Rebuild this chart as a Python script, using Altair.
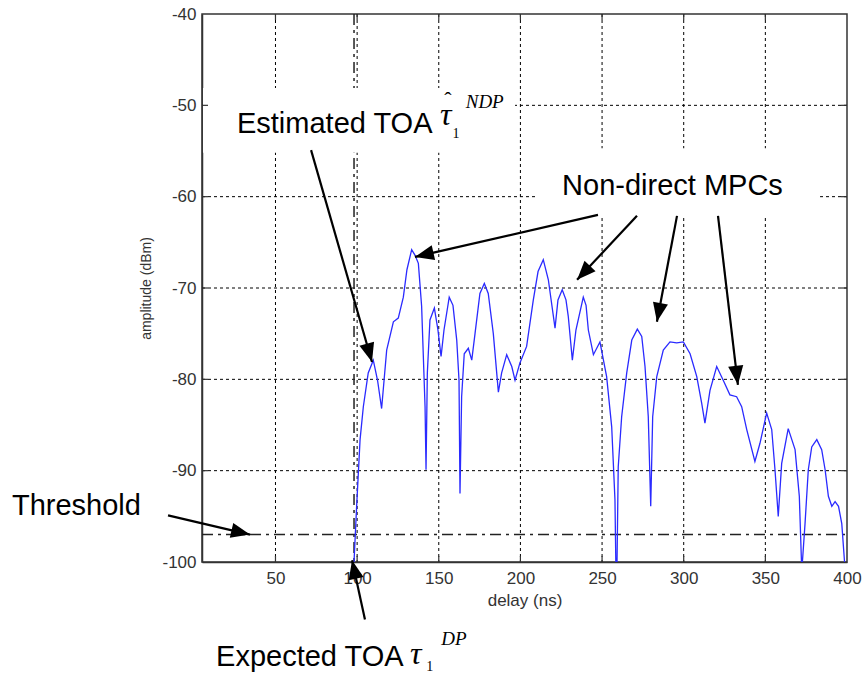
import math
import pandas as pd
import altair as alt

# ---------------- data ----------------
X_TICKS = [50, 100, 150, 200, 250, 300, 350, 400]
Y_TICKS = [-40, -50, -60, -70, -80, -90, -100]

delay = [98.1, 99.7, 101.8, 103.8, 106.8, 109.9, 112.5, 115.0, 116.5, 118.1,
         122.2, 125.2, 128.3, 130.5, 133.4, 135.4, 137.5, 139.5, 141.6, 142.2,
         143.0, 144.6, 147.3, 149.5, 151.4, 153.2, 156.4, 158.7, 161.0, 162.4,
         163.0, 164.0, 165.6, 168.1, 170.2, 172.2, 175.2, 177.9, 180.3, 183.4,
         186.5, 188.5, 191.6, 194.7, 196.7, 199.7, 203.8, 207.9, 210.8, 214.0,
         217.1, 221.2, 223.0, 225.6, 227.9, 229.3, 231.8, 234.0, 238.5, 240.2,
         241.6, 244.7, 248.7, 252.8, 255.9, 257.9, 258.5, 259.1, 259.9, 262.0,
         265.1, 268.2, 271.6, 274.3, 276.3, 278.3, 279.8, 281.0, 283.5, 287.5,
         291.6, 295.7, 299.8, 303.9, 308.0, 311.0, 313.0, 316.1, 320.2, 324.2,
         328.3, 332.4, 335.5, 338.6, 343.6, 346.7, 350.8, 353.9, 355.9, 357.9,
         360.0, 364.0, 368.2, 370.8, 372.3, 374.3, 376.3, 378.4, 381.5, 384.5,
         386.6, 388.6, 390.7, 392.7, 394.8, 396.8, 398.9, 400.0]
amplitude = [-100.0, -93.9, -86.6, -83.0, -79.3, -77.9, -80.1, -83.2, -80.1, -76.8,
             -73.7, -73.3, -71.0, -68.0, -65.8, -66.4, -67.3, -72.0, -83.0, -89.9,
             -79.3, -73.5, -72.2, -74.6, -77.5, -74.6, -71.0, -71.9, -75.7, -80.1,
             -92.5, -81.9, -77.2, -76.6, -77.9, -75.0, -70.6, -69.5, -70.6, -75.0,
             -81.4, -79.3, -77.3, -78.6, -80.1, -78.2, -76.4, -71.3, -68.2, -66.9,
             -69.1, -74.4, -71.3, -70.2, -71.3, -73.1, -77.9, -74.6, -71.0, -71.9,
             -74.6, -77.3, -75.9, -79.7, -85.2, -93.2, -101.0, -101.0, -89.6, -84.1,
             -79.3, -75.7, -74.5, -75.3, -78.6, -84.1, -93.9, -84.1, -79.7, -76.8,
             -75.9, -76.0, -75.9, -77.2, -79.7, -82.6, -84.8, -81.2, -78.6, -80.1,
             -81.7, -81.9, -83.0, -85.5, -89.0, -87.0, -83.7, -85.5, -89.9, -95.0,
             -89.2, -85.4, -87.7, -92.8, -101.0, -95.8, -89.9, -87.4, -86.6, -87.7,
             -89.9, -92.8, -93.9, -93.4, -93.9, -95.8, -101.0, -101.0]

threshold_db = -97.0
expected_toa = 98.1

# annotation arrows: tail (ns, dB) -> tip (ns, dB)
arrow_tail_x = [71.8, 247.5, 271.4, 295.9, 321.0, -15.8, 104.8]
arrow_tail_y = [-54.9, -62.0, -62.1, -62.1, -62.1, -94.9, -106.3]
arrow_tip_x = [109.1, 135.4, 234.7, 283.6, 333.2, 34.4, 96.9]
arrow_tip_y = [-78.1, -66.6, -69.1, -73.7, -80.6, -97.0, -99.8]

# labels
label_text = ["Estimated TOA", "Non-direct MPCs", "Threshold", "Expected TOA"]
label_x = [26.4, 225.5, -111.4, 13.6]
label_y = [-53.0, -59.8, -94.9, -111.4]

tau_text = ["\u03c4", "\u03c4"]
tau_x = [150.8, 132.4]
tau_y = [-52.2, -111.2]

hat_text = ["\u02c6"]
hat_x = [155.6]
hat_y = [-50.2]

sup_text = ["NDP", "DP"]
sup_x = [166.5, 151.5]
sup_y = [-50.3, -109.1]

sub_text = ["1", "1"]
sub_x = [158.4, 142.3]
sub_y = [-53.6, -111.9]

# white boxes behind the in-plot labels
box_x = [5.6, 209.0]
box_x2 = [196.7, 383.5]
box_y = [-48.1, -54.7]
box_y2 = [-55.2, -62.3]

# ---------------- layout ----------------
XMIN, XMAX, YMIN, YMAX = 5, 400, -100, -40
W, H = 645, 548
FONT = "Liberation Sans"
SERIF = "Liberation Serif"

xs = alt.Scale(domain=[XMIN, XMAX], nice=False, zero=False)
ys = alt.Scale(domain=[YMIN, YMAX], nice=False, zero=False)

ax_x = alt.Axis(values=X_TICKS, title="delay (ns)", grid=False, ticks=False,
                labelFontSize=17, labelFont=FONT, labelColor="#333",
                labelPadding=8, titleFontSize=17, titleFont=FONT,
                titleFontWeight="normal", titleColor="#333", titlePadding=6,
                domainColor="#333", domainWidth=1.5, labelFlush=False,
                labelExpr="'' + datum.value")
ax_y = alt.Axis(values=Y_TICKS, title="amplitude (dBm)", grid=False, ticks=False,
                labelFontSize=17, labelFont=FONT, labelColor="#333",
                labelPadding=6, titleFontSize=14, titleFont=FONT,
                titleFontWeight="normal", titleColor="#333", titlePadding=8,
                domainColor="#333", domainWidth=1.5, labelFlush=False,
                labelExpr="'' + datum.value")


def X(f):
    return alt.X(f, type="quantitative", scale=xs, axis=ax_x)


def Y(f):
    return alt.Y(f, type="quantitative", scale=ys, axis=ax_y)


curve = pd.DataFrame({"delay": delay, "amp": amplitude})

gx = pd.DataFrame({"v": X_TICKS[:-1]})
gy = pd.DataFrame({"v": Y_TICKS[1:-1]})

grid_v = alt.Chart(gx).mark_rule(color="#000", strokeWidth=1, strokeDash=[3, 3]).encode(
    x=X("v"), y=alt.value(0), y2=alt.value(H))
grid_h = alt.Chart(gy).mark_rule(color="#000", strokeWidth=1, strokeDash=[3, 3]).encode(
    y=Y("v"), x=alt.value(0), x2=alt.value(W))

thr = alt.Chart(pd.DataFrame({"v": [threshold_db]})).mark_rule(
    color="#222", strokeWidth=1.5, strokeDash=[11, 5, 3, 5]).encode(
    y=Y("v"), x=alt.value(0), x2=alt.value(W))
etoa = alt.Chart(pd.DataFrame({"v": [expected_toa]})).mark_rule(
    color="#222", strokeWidth=1.5, strokeDash=[11, 5, 3, 5]).encode(
    x=X("v"), y=alt.value(0), y2=alt.value(H))

boxes = alt.Chart(pd.DataFrame({"x": box_x, "x2": box_x2, "y": box_y, "y2": box_y2})).mark_rect(
    color="white").encode(x=X("x"), x2="x2", y=Y("y"), y2="y2")

line = alt.Chart(curve).mark_line(color="#2a2aff", strokeWidth=1.3, clip=True).encode(
    x=X("delay"), y=Y("amp"), order="delay:Q")


def px(v):
    return (v - XMIN) / (XMAX - XMIN) * W


def py(v):
    return (YMAX - v) / (YMAX - YMIN) * H


angles = []
for tx, ty, hx, hy in zip(arrow_tail_x, arrow_tail_y, arrow_tip_x, arrow_tip_y):
    dx = px(hx) - px(tx)
    dy = py(hy) - py(ty)
    angles.append(math.degrees(math.atan2(dx, -dy)) % 360)

arr = pd.DataFrame({"x": arrow_tail_x, "y": arrow_tail_y,
                    "x2": arrow_tip_x, "y2": arrow_tip_y, "ang": angles})

arrow_lines = alt.Chart(arr).mark_rule(color="black", strokeWidth=2.2).encode(
    x=X("x"), y=Y("y"), x2="x2", y2="y2")
arrow_heads = alt.Chart(arr).mark_point(
    shape="M0,0L0.8,2L-0.8,2Z", filled=True, color="black", opacity=1,
    size=360, strokeWidth=0).encode(
    x=X("x2"), y=Y("y2"), angle=alt.Angle("ang:Q", scale=None))

labels = alt.Chart(pd.DataFrame({"t": label_text, "x": label_x, "y": label_y})).mark_text(
    font=FONT, fontSize=29, align="left", baseline="alphabetic", color="black").encode(
    x=X("x"), y=Y("y"), text="t:N")
taus = alt.Chart(pd.DataFrame({"t": tau_text, "x": tau_x, "y": tau_y})).mark_text(
    font=SERIF, fontSize=32, fontStyle="italic", align="left", baseline="alphabetic",
    color="black").encode(x=X("x"), y=Y("y"), text="t:N")
hats = alt.Chart(pd.DataFrame({"t": hat_text, "x": hat_x, "y": hat_y})).mark_text(
    font=SERIF, fontSize=22, align="center", baseline="alphabetic", color="black").encode(
    x=X("x"), y=Y("y"), text="t:N")
sups = alt.Chart(pd.DataFrame({"t": sup_text, "x": sup_x, "y": sup_y})).mark_text(
    font=SERIF, fontSize=19, fontStyle="italic", align="left", baseline="alphabetic",
    color="black").encode(x=X("x"), y=Y("y"), text="t:N")
subs = alt.Chart(pd.DataFrame({"t": sub_text, "x": sub_x, "y": sub_y})).mark_text(
    font=SERIF, fontSize=14, align="left", baseline="alphabetic", color="black").encode(
    x=X("x"), y=Y("y"), text="t:N")

tx_in = pd.DataFrame({"v": X_TICKS[:-1]})
ty_in = pd.DataFrame({"v": Y_TICKS[1:-1]})
tick_b = alt.Chart(tx_in).mark_rule(color="#333", strokeWidth=1.2).encode(
    x=X("v"), y=alt.value(H), y2=alt.value(H - 6))
tick_t = alt.Chart(tx_in).mark_rule(color="#333", strokeWidth=1.2).encode(
    x=X("v"), y=alt.value(0), y2=alt.value(6))
tick_l = alt.Chart(ty_in).mark_rule(color="#333", strokeWidth=1.2).encode(
    y=Y("v"), x=alt.value(0), x2=alt.value(6))
tick_r = alt.Chart(ty_in).mark_rule(color="#333", strokeWidth=1.2).encode(
    y=Y("v"), x=alt.value(W - 6), x2=alt.value(W))

chart = alt.layer(
    grid_v, grid_h, thr, etoa, boxes, line, tick_b, tick_t, tick_l, tick_r,
    arrow_lines, arrow_heads, labels, taus, hats, sups, subs
).properties(
    width=W, height=H,
    autosize=alt.AutoSizeParams(type="none"),
    padding={"left": 202, "top": 14, "right": 16, "bottom": 111},
    background="white",
).configure_view(stroke="#333", strokeWidth=1.5)

chart.save("out.html", embed_options={"renderer": "svg", "actions": False})
